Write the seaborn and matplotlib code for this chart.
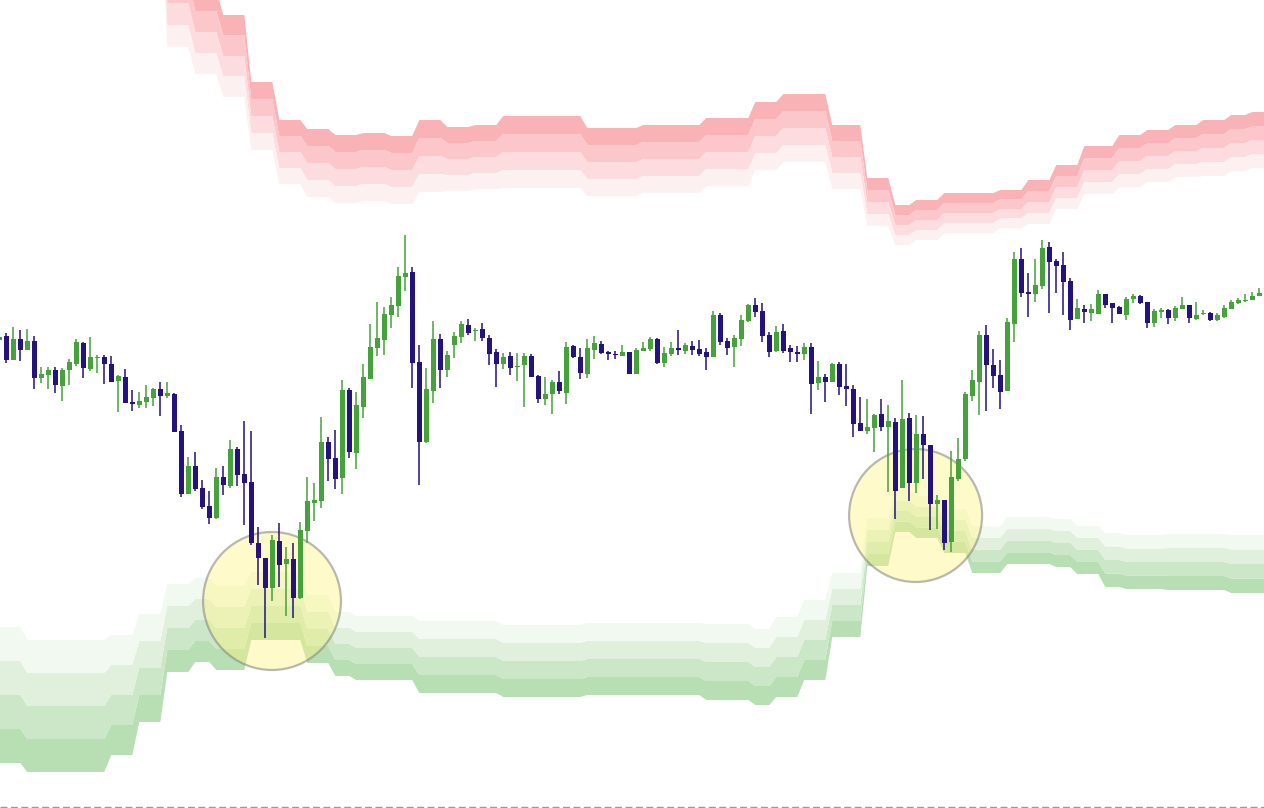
import numpy as np
import pandas as pd
import seaborn as sns
import matplotlib.pyplot as plt
from matplotlib.patches import Ellipse

# Kerzen (Preis-Einheiten, ohne Achsenbeschriftung)
opens = [660, 664, 640, 661, 650, 659, 622, 625, 630, 614,
         630, 636, 657, 631, 642, 643, 636, 619, 623, 598,
         595, 598, 602, 611, 604, 606, 569, 506, 534, 512,
         494, 482, 523, 514, 551, 526, 518, 457, 442, 412,
         459, 436, 441, 402, 469, 497, 499, 558, 542, 522,
         610, 547, 593, 621, 652, 660, 685, 694, 723, 728,
         638, 558, 609, 661, 630, 655, 663, 675, 669, 671,
         662, 648, 636, 644, 633, 635, 644, 624, 601, 606,
         618, 607, 654, 643, 626, 650, 656, 648, 646, 644,
         648, 626, 649, 651, 661, 637, 646, 652, 649, 654,
         651, 648, 643, 685, 659, 653, 661, 679, 695, 689,
         665, 649, 669, 652, 648, 646, 653, 617, 623, 618,
         636, 614, 611, 577, 569, 572, 586, 573, 578, 512,
         582, 517, 566, 555, 496, 500, 458, 521, 541, 604,
         618, 665, 635, 625, 609, 676, 741, 708, 706, 714,
         753, 739, 735, 719, 681, 691, 687, 686, 706, 697,
         693, 685, 701, 704, 698, 677, 688, 690, 682, 691,
         695, 681, 686, 687, 680, 683, 691, 697, 699, 700,
         704, 705]
highs = [664, 667, 673, 670, 671, 664, 633, 633, 633, 632,
         641, 661, 658, 663, 645, 645, 644, 625, 631, 610,
         608, 615, 612, 618, 618, 607, 575, 543, 548, 520,
         509, 532, 534, 560, 553, 579, 569, 473, 442, 465,
         477, 453, 457, 478, 523, 517, 583, 563, 570, 620,
         612, 608, 636, 676, 698, 693, 703, 733, 765, 733,
         655, 632, 679, 666, 649, 668, 679, 681, 672, 677,
         665, 651, 647, 648, 647, 647, 646, 625, 623, 620,
         629, 658, 655, 652, 661, 664, 659, 649, 649, 655,
         648, 652, 658, 663, 662, 653, 658, 670, 657, 659,
         660, 652, 689, 687, 662, 665, 685, 696, 702, 697,
         668, 674, 676, 655, 654, 657, 657, 639, 626, 637,
         638, 636, 615, 603, 601, 586, 601, 595, 582, 620,
         587, 585, 584, 555, 505, 500, 549, 562, 608, 630,
         669, 675, 651, 640, 682, 748, 752, 727, 741, 760,
         758, 741, 748, 722, 701, 695, 696, 710, 706, 697,
         694, 703, 706, 705, 698, 691, 692, 691, 694, 703,
         695, 698, 690, 688, 687, 695, 700, 702, 706, 708,
         712, 714]
lows = [659, 637, 640, 639, 650, 611, 617, 611, 607, 599,
        615, 634, 622, 629, 627, 616, 618, 588, 597, 589,
        592, 592, 594, 584, 602, 568, 503, 506, 509, 491,
        476, 481, 505, 512, 514, 475, 455, 415, 362, 399,
        413, 384, 382, 401, 457, 479, 492, 519, 511, 506,
        542, 531, 582, 621, 644, 645, 672, 683, 709, 612,
        515, 557, 597, 612, 623, 642, 657, 665, 659, 659,
        635, 613, 631, 625, 619, 593, 623, 597, 595, 586,
        606, 596, 642, 621, 622, 641, 646, 640, 641, 644,
        626, 626, 649, 649, 636, 633, 644, 645, 646, 645,
        644, 630, 643, 655, 645, 633, 654, 678, 683, 658,
        643, 648, 647, 638, 638, 640, 586, 610, 598, 618,
        605, 594, 563, 569, 566, 548, 569, 508, 481, 512,
        499, 507, 521, 470, 471, 450, 448, 519, 539, 599,
        585, 589, 612, 591, 609, 658, 703, 683, 698, 711,
        687, 707, 685, 670, 681, 677, 679, 686, 692, 677,
        686, 680, 697, 696, 672, 673, 682, 676, 679, 691,
        677, 680, 685, 679, 679, 682, 691, 696, 698, 700,
        704, 705]
closes = [663, 640, 661, 650, 659, 622, 626, 630, 615, 630,
          638, 658, 632, 643, 643, 636, 618, 624, 597, 596,
          599, 603, 611, 604, 607, 568, 506, 534, 511, 493,
          482, 523, 515, 551, 525, 517, 457, 442, 412, 460,
          435, 441, 402, 470, 499, 500, 558, 541, 521, 610,
          548, 595, 623, 653, 662, 686, 695, 724, 727, 637,
          558, 611, 661, 630, 645, 664, 676, 667, 670, 662,
          646, 636, 643, 632, 634, 644, 623, 601, 606, 618,
          609, 653, 643, 627, 652, 657, 647, 646, 645, 648,
          626, 650, 652, 661, 637, 647, 652, 650, 655, 650,
          646, 643, 685, 658, 652, 662, 680, 695, 688, 664,
          648, 668, 649, 648, 646, 653, 616, 623, 618, 636,
          613, 611, 576, 569, 573, 585, 573, 579, 509, 581,
          517, 566, 555, 496, 500, 457, 523, 541, 606, 620,
          665, 635, 624, 608, 678, 741, 707, 706, 715, 752,
          738, 734, 718, 680, 692, 688, 691, 706, 695, 692,
          686, 701, 704, 697, 677, 689, 690, 682, 692, 695,
          682, 685, 687, 680, 685, 692, 698, 700, 700, 704,
          707, 711]

# obere Zone (rot): Stufen ab Kerze, Oberkante, Breite je Schicht
upper_start = [0, 24, 28, 32, 36, 40, 44, 48, 52, 56, 60, 64, 68, 72, 84, 92,
               101, 108, 112, 119, 124, 128, 131, 135, 143, 147, 151, 155, 160,
               164, 168, 172, 176, 179]
upper_top = [1200, 1041, 1010, 985, 918, 880, 871, 865, 867, 864, 880, 873, 875,
             884, 872, 875, 882, 898, 906, 875, 822, 795, 800, 807, 810, 820, 835,
             854, 865, 870, 875, 880, 885, 888]
upper_width = [30, 22, 21, 20.5, 17, 16, 17, 17, 17, 17, 18, 16, 16, 18, 17, 17,
               17, 17, 17, 16, 12, 10, 10, 10, 9.5, 11, 11, 12, 13, 13, 13, 14, 14, 14]

# untere Zone (gruen): Stufen ab Kerze, Unterkante, Breite je Schicht
lower_start = [0, 4, 16, 20, 24, 28, 31, 36, 44, 48, 51, 60, 72, 84, 101, 108,
               111, 115, 119, 124, 128, 131, 135, 139, 144, 151, 154, 158, 161,
               167, 176]
lower_bottom = [237, 228, 245, 278, 328, 338, 330, 360, 337, 324, 320, 307, 303,
                305, 300, 295, 303, 320, 363, 434, 468, 462, 447, 427, 436, 433,
                426, 413, 411, 410, 407]
lower_width = [34, 33, 30, 27, 22, 21, 21, 17, 17, 16, 16, 18, 18, 18, 19, 19,
               20, 20, 16, 12, 10.5, 10.5, 11, 11.7, 11.7, 12, 12, 13.5, 13.5, 14, 14.5]

# markierte Bereiche (Kerze, Preis, Breite in Kerzen, Hoehe in Preis)
highlights = [(38.96, 399, 19.7, 138), (130.9, 484.5, 19.0, 133)]

UP = "#46a23a"
DOWN = "#23127f"
RED_LAYERS = ["#f9b2b6", "#fbc7ca", "#fcdcde", "#fdf0f1"]
GREEN_LAYERS = ["#b8deb4", "#cbe7c7", "#e0f0dd", "#f1f9f0"]

df = pd.DataFrame({"open": opens, "high": highs, "low": lows, "close": closes})
df["idx"] = np.arange(len(df))
n = len(df)


def expand(starts, values):
    runs = np.diff(starts + [n])
    return np.repeat(np.array(values, dtype=float), runs)


sns.set_theme(style="white")

fig = plt.figure(figsize=(12.64, 8.08), dpi=100)
ax = fig.add_axes([0, 0, 1, 1])

x = df["idx"].values
u_top = expand(upper_start, upper_top)
u_w = expand(upper_start, upper_width)
l_bot = expand(lower_start, lower_bottom)
l_w = expand(lower_start, lower_width)

for i, col in enumerate(RED_LAYERS):
    ax.fill_between(x, u_top - (i + 1) * u_w, u_top - i * u_w, color=col, lw=0, zorder=1)
for i, col in enumerate(GREEN_LAYERS):
    ax.fill_between(x, l_bot + i * l_w, l_bot + (i + 1) * l_w, color=col, lw=0, zorder=1)

# Kreise unter den Kerzen
for cx, cy, w, h in highlights:
    ax.add_patch(Ellipse((cx, cy), w, h, facecolor=(1.0, 0.96, 0.5, 0.42),
                         edgecolor=(0.5, 0.5, 0.5, 0.55), lw=1.6, zorder=2))

colors = np.where(df["close"] >= df["open"], UP, DOWN)
ax.vlines(x, df["low"], df["high"], colors=colors, lw=1.1, zorder=3)
body_lo = np.minimum(df["open"], df["close"])
body_h = np.maximum(np.abs(df["close"] - df["open"]), 1.5)
ax.bar(x, body_h, bottom=body_lo, width=0.72, color=colors, lw=0, zorder=4)

ax.axhline(193, color="#9a9a9a", lw=1, ls=(0, (5, 2.5)), zorder=5)

ax.set_xlim(0.1, 180.67)
ax.set_ylim(192, 1000)
ax.axis("off")

fig.savefig("out.png", dpi=100)
